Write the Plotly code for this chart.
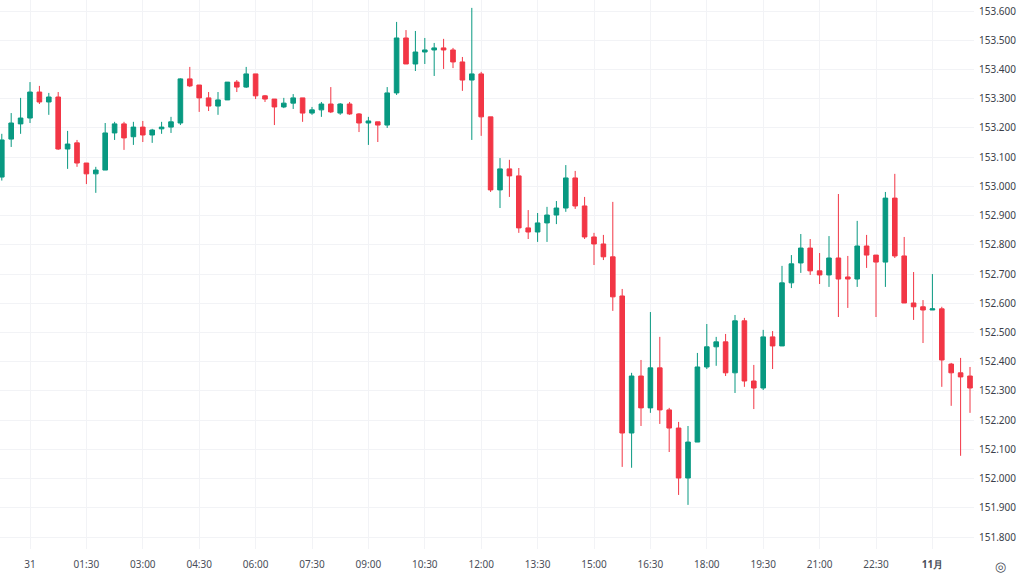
import plotly.graph_objects as go
import pandas as pd

# 15-minute candles, 2024-10-30 23:15 .. 2024-11-01 01:00
times = pd.date_range("2024-10-30 23:15", "2024-11-01 01:00", freq="15min").strftime("%Y-%m-%d %H:%M").tolist()

opens = [153.032, 153.162, 153.214, 153.234, 153.323, 153.289, 153.306, 153.128, 153.149, 153.080,
         153.043, 153.056, 153.183, 153.214, 153.170, 153.203, 153.176, 153.197, 153.203, 153.217,
         153.368, 153.347, 153.303, 153.275, 153.296, 153.357, 153.340, 153.385, 153.310, 153.299,
         153.272, 153.285, 153.303, 153.251, 153.262, 153.282, 153.251, 153.282, 153.248, 153.217,
         153.221, 153.210, 153.320, 153.508, 153.419, 153.460, 153.467, 153.474, 153.467, 153.426,
         153.364, 153.385, 153.238, 152.988, 153.060, 153.036, 152.858, 152.844, 152.875, 152.902,
         152.926, 153.029, 152.933, 152.827, 152.803, 152.759, 152.625, 152.156, 152.351, 152.242,
         152.379, 152.235, 152.173, 152.002, 152.125, 152.382, 152.451, 152.468, 152.362, 152.540,
         152.334, 152.310, 152.485, 152.454, 152.670, 152.738, 152.789, 152.711, 152.697, 152.755,
         152.690, 152.683, 152.796, 152.765, 152.741, 152.960, 152.762, 152.601, 152.588, 152.577,
         152.581, 152.392, 152.362, 152.351]
highs = [153.180, 153.251, 153.303, 153.357, 153.344, 153.320, 153.323, 153.190, 153.159, 153.080,
         153.067, 153.217, 153.221, 153.221, 153.221, 153.224, 153.197, 153.221, 153.238, 153.370,
         153.409, 153.347, 153.323, 153.323, 153.357, 153.364, 153.409, 153.385, 153.313, 153.299,
         153.303, 153.316, 153.303, 153.272, 153.289, 153.340, 153.285, 153.289, 153.251, 153.238,
         153.221, 153.340, 153.563, 153.535, 153.532, 153.508, 153.491, 153.505, 153.474, 153.443,
         153.611, 153.392, 153.238, 153.097, 153.091, 153.063, 152.919, 152.909, 152.930, 152.950,
         153.073, 153.053, 152.964, 152.841, 152.834, 152.947, 152.649, 152.362, 152.406, 152.570,
         152.485, 152.242, 152.194, 152.180, 152.430, 152.529, 152.485, 152.495, 152.560, 152.550,
         152.389, 152.509, 152.505, 152.728, 152.765, 152.837, 152.820, 152.772, 152.830, 152.974,
         152.762, 152.882, 152.834, 152.765, 152.981, 153.043, 152.827, 152.707, 152.611, 152.700,
         152.588, 152.396, 152.413, 152.382]
lows = [153.020, 153.135, 153.180, 153.217, 153.282, 153.245, 153.125, 153.060, 153.067, 153.008,
        152.978, 153.056, 153.159, 153.125, 153.142, 153.152, 153.149, 153.180, 153.183, 153.210,
        153.340, 153.255, 153.258, 153.245, 153.296, 153.323, 153.337, 153.299, 153.289, 153.210,
        153.268, 153.265, 153.221, 153.245, 153.238, 153.251, 153.245, 153.245, 153.186, 153.142,
        153.152, 153.200, 153.313, 153.419, 153.395, 153.419, 153.378, 153.402, 153.405, 153.327,
        153.159, 153.173, 152.981, 152.926, 152.964, 152.841, 152.820, 152.810, 152.810, 152.871,
        152.913, 152.923, 152.820, 152.731, 152.748, 152.574, 152.040, 152.037, 152.180, 152.225,
        152.187, 152.091, 151.944, 151.910, 152.125, 152.375, 152.386, 152.351, 152.293, 152.314,
        152.238, 152.303, 152.375, 152.454, 152.652, 152.704, 152.697, 152.666, 152.656, 152.553,
        152.584, 152.656, 152.721, 152.553, 152.656, 152.755, 152.601, 152.543, 152.464, 152.577,
        152.314, 152.249, 152.078, 152.225]
closes = [153.159, 153.217, 153.234, 153.323, 153.289, 153.306, 153.128, 153.145, 153.080, 153.043,
          153.056, 153.183, 153.214, 153.166, 153.203, 153.176, 153.193, 153.203, 153.221, 153.368,
          153.344, 153.303, 153.275, 153.296, 153.357, 153.340, 153.385, 153.310, 153.299, 153.272,
          153.285, 153.303, 153.251, 153.262, 153.282, 153.255, 153.282, 153.248, 153.217, 153.224,
          153.210, 153.320, 153.508, 153.419, 153.460, 153.467, 153.474, 153.467, 153.426, 153.364,
          153.385, 153.238, 152.988, 153.060, 153.036, 152.858, 152.844, 152.875, 152.902, 152.926,
          153.029, 152.933, 152.827, 152.803, 152.759, 152.622, 152.156, 152.351, 152.242, 152.379,
          152.235, 152.173, 152.002, 152.125, 152.382, 152.451, 152.468, 152.362, 152.540, 152.334,
          152.310, 152.485, 152.454, 152.670, 152.735, 152.789, 152.711, 152.697, 152.755, 152.683,
          152.683, 152.796, 152.765, 152.741, 152.960, 152.762, 152.601, 152.588, 152.577, 152.581,
          152.406, 152.362, 152.348, 152.310]

tick_times = ["2024-10-31 00:00", "2024-10-31 01:30", "2024-10-31 03:00", "2024-10-31 04:30",
              "2024-10-31 06:00", "2024-10-31 07:30", "2024-10-31 09:00", "2024-10-31 10:30",
              "2024-10-31 12:00", "2024-10-31 13:30", "2024-10-31 15:00", "2024-10-31 16:30",
              "2024-10-31 18:00", "2024-10-31 19:30", "2024-10-31 21:00", "2024-10-31 22:30",
              "2024-11-01 00:00"]
tick_labels = ["31", "01:30", "03:00", "04:30", "06:00", "07:30", "09:00", "10:30", "12:00",
               "13:30", "15:00", "16:30", "18:00", "19:30", "21:00", "22:30", "<b>11月</b>"]

UP = "#089981"
DOWN = "#F23645"

fig = go.Figure(go.Candlestick(
    x=times, open=opens, high=highs, low=lows, close=closes,
    increasing=dict(line=dict(color=UP, width=1), fillcolor=UP),
    decreasing=dict(line=dict(color=DOWN, width=1), fillcolor=DOWN),
    whiskerwidth=0, hoverinfo="skip", showlegend=False,
))

fig.update_layout(
    width=1024, height=576,
    margin=dict(l=0, r=50, t=0, b=27),
    paper_bgcolor="white", plot_bgcolor="white",
    font=dict(family="Noto Sans, Liberation Sans, sans-serif", size=10, color="#3b3f4a"),
    xaxis=dict(
        type="date",
        range=["2024-10-30 23:12:08", "2024-11-01 01:06:23"],
        tickvals=tick_times, ticktext=tick_labels,
        showgrid=True, gridcolor="#f2f3f6", gridwidth=1,
        zeroline=False, showline=False, ticks="",
        rangeslider=dict(visible=False),
        tickfont=dict(size=10, color="#4a4e59"),
        ticklabelstandoff=8,
    ),
    yaxis=dict(
        side="right",
        range=[151.759, 153.638],
        dtick=0.1, tick0=151.8, tickformat=".3f",
        showgrid=True, gridcolor="#f2f3f6", gridwidth=1,
        zeroline=False, showline=False, ticks="",
        tickfont=dict(size=10, color="#3b3f4a"),
        ticklabelstandoff=4,
    ),
)

# settings icon in the bottom-right corner
fig.add_annotation(x=1.0, y=-0.031, xref="paper", yref="paper", text="◎",
                   xanchor="center", yanchor="middle", showarrow=False, xshift=26,
                   font=dict(size=13, color="#4a4e59"))

fig.write_html("out.html")
